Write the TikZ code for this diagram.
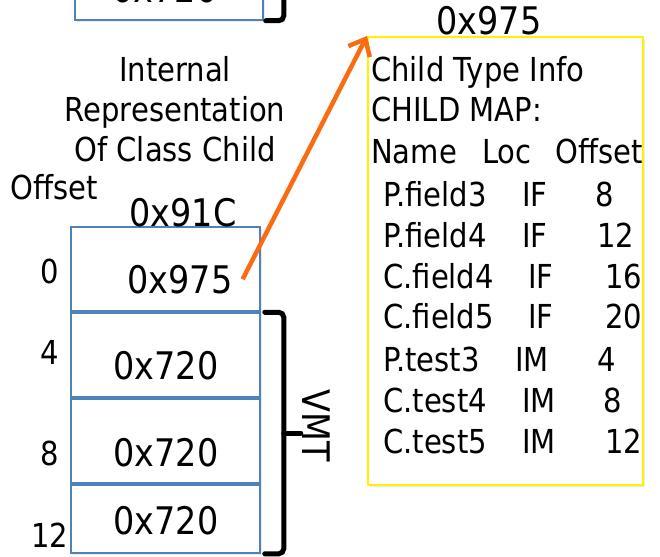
\documentclass[tikz,border=0pt]{standalone}
\usepackage{fontspec}
\setmainfont[FakeStretch=0.88]{DejaVu Sans}
\usetikzlibrary{arrows.meta,shadows,calc}
\definecolor{cellblue}{HTML}{4F81BD}
\definecolor{ptrorange}{RGB}{250,108,18}
\newcommand{\midtext}{\fontsize{33}{40}\selectfont}
\newcommand{\bigtext}{\fontsize{38}{46}\selectfont}

\begin{document}
\begin{tikzpicture}[x=1pt, y=-1pt,
    cell/.style={rectangle, draw=cellblue, line width=1.5pt, fill=white, minimum width=189pt, inner sep=0pt,
        drop shadow={opacity=0.15, shadow xshift=2pt, shadow yshift=-2pt}},
    sep/.style={draw=cellblue, line width=4pt},
    val/.style={anchor=base, inner sep=0pt, font=\bigtext},
    lbl/.style={anchor=base, inner sep=0pt, font=\midtext},
    entry/.style={anchor=base west, inner sep=0pt, font=\midtext},
    brace/.style={line width=5pt, rounded corners=5pt, line cap=round},
    ptr/.style={-{Straight Barb[length=14pt, width=24pt]}, line width=4.5pt, ptrorange}
]
    \useasboundingbox (0,0) rectangle (660,556);

    % Object layout (cells)
    \node[cell, minimum width=188pt, minimum height=100pt] (prev) at (169,-30) {};
    \node[val] (pv) at (165,3) {0x720};
    \node[cell, minimum height=86pt] (c0) at (165.5,270) {};
    \node[cell, minimum height=86pt] (c1) at (165.5,356) {};
    \node[cell, minimum height=86pt] (c2) at (165.5,442) {};
    \node[cell, minimum height=68pt] (c3) at (165.5,519) {};
    \draw[sep] (c1.north west) -- (c1.north east);
    \draw[sep] (c2.north west) -- (c2.north east);
    \draw[sep] (c3.north west) -- (c3.north east);

    \node[val] (v0) at (180,293) {0x975};
    \node[val] (v1) at (166,379) {0x720};
    \node[val] (v2) at (166,466) {0x720};
    \node[val] (v3) at (166,534) {0x720};

    % Offsets
    \node[entry] (offhdr) at (10,199) {Offset};
    \node[lbl] (o0) at (50,283) {0};
    \node[lbl] (o1) at (50,364) {4};
    \node[lbl] (o2) at (50,465) {8};
    \node[lbl] (o3) at (50,547) {12};

    \node[val] (addr) at (183,226) {0x91C};
    \node[align=center, inner sep=0pt, font=\midtext] (title) at (175,109.5) {Internal\\Representation\\Of Class Child};

    % VMT bracket
    \draw[brace] ([xshift=20pt]prev.north east) -- ([xshift=20pt]prev.south east) -- ([xshift=2pt]prev.south east);
    \draw[brace] ([xshift=4pt]c1.north east) -- ([xshift=23pt]c1.north east)
        -- ([xshift=23pt]c3.south east) -- ([xshift=4pt]c3.south east);
    \coordinate (vmtmid) at ($([xshift=23pt]c1.north east)!0.5!([xshift=23pt]c3.south east)$);
    \draw[brace] (vmtmid) -- ++(17,0);
    \node[rotate=-90, inner sep=0pt, font=\bigtext] (vmt) at (316,426) {VMT};

    % Type info
    \node[rectangle, draw=yellow, line width=2pt, fill=white, minimum width=275pt, minimum height=448pt,
        drop shadow={opacity=0.15, shadow xshift=2pt, shadow yshift=-2pt}] (map) at (505.5,261) {};
    \node[val] (mapaddr) at (489,35) {0x975};
    \node[entry] (h1) at (371,82) {Child Type Info};
    \node[entry] (h2) at (371,122) {CHILD MAP:};
    \node[entry] (h3) at (371,163) {Name};
    \node[entry] (h4) at (482,163) {Loc};
    \node[entry] (h5) at (555,163) {Offset};
    \foreach \nm/\lc/\xl/\off/\xo/\yb [count=\i] in {
        P.field3/IF/522/8/595/206, P.field4/IF/522/12/597/247,
        C.field4/IF/528/16/605/288, C.field5/IF/528/20/605/328,
        P.test3/IM/515/4/597/371, C.test4/IM/522/8/603/412,
        C.test5/IM/522/12/605/453}{
        \node[entry] (rn\i) at (383,\yb) {\nm};
        \node[entry] (rl\i) at (\xl,\yb) {\lc};
        \node[entry] (ro\i) at (\xo,\yb) {\off};
    }

    % Pointer to type info
    \draw[ptr] ([xshift=10pt]v0.east) -- (map.north west);
\end{tikzpicture}
\end{document}
